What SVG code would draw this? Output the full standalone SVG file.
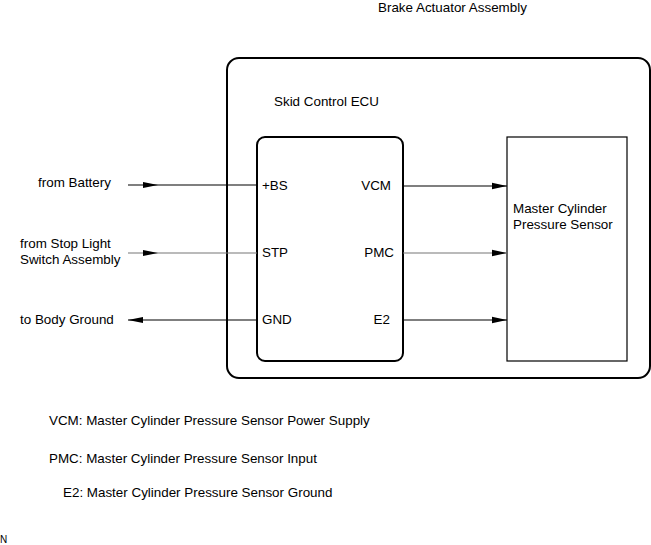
<svg xmlns="http://www.w3.org/2000/svg" width="651" height="545" viewBox="0 0 651 545">
<style>
text{font-family:"Liberation Sans",Arial,sans-serif;font-size:13.4px;fill:#000}
.box{fill:none;stroke:#000;stroke-width:2}
.sbox{fill:none;stroke:#000;stroke-width:1.2}
.w{stroke:#000;stroke-width:1.2;fill:none}
.g{stroke:#777;stroke-width:1.2;fill:none}
</style>
<defs>
<marker id="ah" markerWidth="15" markerHeight="8" refX="15" refY="4" orient="auto" markerUnits="userSpaceOnUse">
<path d="M0,0.8 L15,4 L0,7.2 Z" fill="#000"/>
</marker>
</defs>
<rect width="651" height="545" fill="#fff"/>
<text x="378" y="12">Brake Actuator Assembly</text>
<g id="brake-actuator">
<rect class="box" x="227" y="58" width="423" height="320" rx="12"/>
</g>
<g id="skid-control-ecu">
<text x="274" y="106">Skid Control ECU</text>
<rect class="box" x="257" y="137" width="146" height="224" rx="8"/>
<text x="262" y="190">+BS</text>
<text x="262" y="257">STP</text>
<text x="262" y="324">GND</text>
<text x="391" y="190" text-anchor="end">VCM</text>
<text x="394" y="257" text-anchor="end">PMC</text>
<text x="390" y="324" text-anchor="end">E2</text>
</g>
<g id="master-cylinder-pressure-sensor">
<rect class="sbox" x="507" y="137" width="120" height="224"/>
<text x="513" y="213">Master Cylinder</text>
<text x="513" y="229">Pressure Sensor</text>
</g>
<g id="connectors">
<line class="w" x1="128" y1="185" x2="257" y2="185"/>
<path d="M143,182 L158,185 L143,188 Z" fill="#000"/>
<line class="g" x1="128" y1="253" x2="257" y2="253"/>
<path d="M143,250 L158,253 L143,256 Z" fill="#000"/>
<line class="w" x1="128" y1="320" x2="257" y2="320"/>
<path d="M143,317 L128,320 L143,323 Z" fill="#000"/>
<line class="w" x1="403" y1="186" x2="507" y2="186" marker-end="url(#ah)"/>
<line class="g" x1="403" y1="253" x2="507" y2="253" marker-end="url(#ah)"/>
<line class="w" x1="403" y1="320" x2="507" y2="320" marker-end="url(#ah)"/>
</g>
<text x="38" y="187">from Battery</text>
<text x="20" y="248">from Stop Light</text>
<text x="20" y="264">Switch Assembly</text>
<text x="20" y="324">to Body Ground</text>
<text x="49" y="425">VCM: Master Cylinder Pressure Sensor Power Supply</text>
<text x="49" y="463">PMC: Master Cylinder Pressure Sensor Input</text>
<text x="63" y="497">E2: Master Cylinder Pressure Sensor Ground</text>
<text x="0" y="543" style="font-size:10px">N</text>
</svg>
